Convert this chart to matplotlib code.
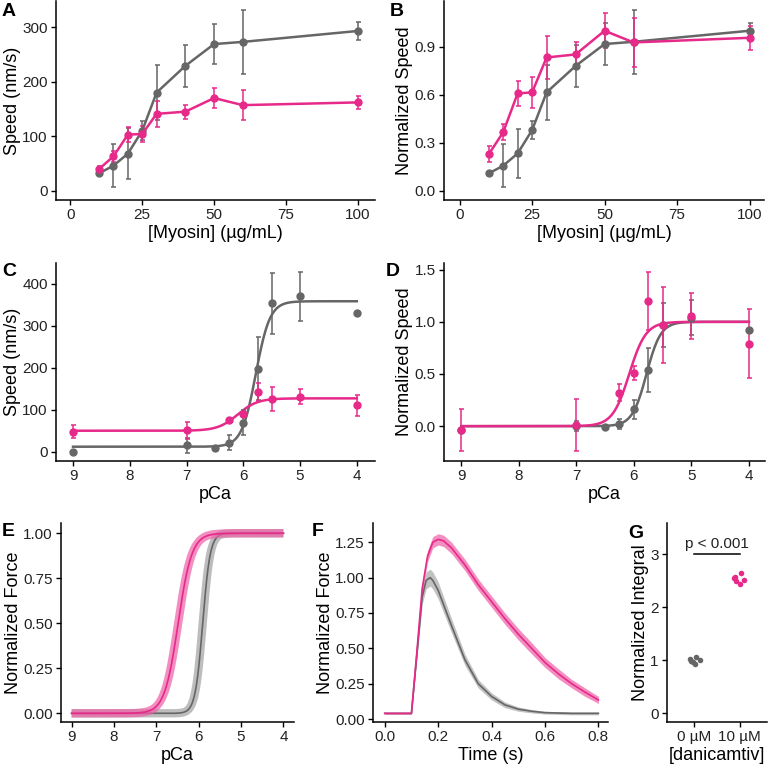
import numpy as np
import matplotlib
matplotlib.use('Agg')
import matplotlib.pyplot as plt

plt.rcParams['font.family'] = ['Liberation Sans', 'DejaVu Sans']

PINK = '#E7298A'
GRAY = '#666666'

# ---- A / B : speed vs myosin concentration
myosin = [10, 15, 20, 25, 30, 40, 50, 60, 100]
speed_ctrl = [32, 46, 68, 110, 180, 229, 269, 273, 293]
speed_ctrl_err = [4, 39, 47, 17, 51, 38, 37, 58, 16]
speed_dan = [40, 63, 103, 104, 141, 145, 170, 157, 162]
speed_dan_err = [5, 10, 13, 14, 24, 13, 19, 27, 12]

norm_ctrl = [0.108, 0.156, 0.233, 0.379, 0.615, 0.78, 0.917, 0.931, 1.0]
norm_ctrl_err = [0.0, 0.135, 0.155, 0.058, 0.17, 0.13, 0.13, 0.2, 0.05]
norm_dan = [0.227, 0.365, 0.608, 0.615, 0.833, 0.852, 1.0, 0.927, 0.956]
norm_dan_err = [0.05, 0.05, 0.08, 0.095, 0.135, 0.08, 0.11, 0.155, 0.075]

# ---- C / D : speed vs pCa
pca_ctrl = [9, 7, 6.5, 6.25, 6, 5.75, 5.5, 5, 4]
pca_speed_ctrl = [0, 15, 8, 22, 69, 197, 353, 370, 331]
pca_speed_ctrl_err = [0, 17, 0, 17, 30, 75, 73, 58, 5]
pca_dan = [9, 7, 6.25, 6, 5.75, 5.5, 5, 4]
pca_speed_dan = [48, 51, 75, 90, 142, 125, 131, 111]
pca_speed_dan_err = [15, 20, 5, 8, 22, 28, 18, 25]

pca_norm_ctrl = [-0.04, 0.0, -0.01, 0.02, 0.16, 0.54, 0.97, 1.04, 0.92]
pca_norm_ctrl_err = [0, 0.05, 0, 0.05, 0.09, 0.21, 0.21, 0.17, 0]
pca_norm_dan = [-0.04, 0.01, 0.32, 0.51, 1.2, 0.97, 1.06, 0.79]
pca_norm_dan_err = [0.2, 0.25, 0.08, 0.07, 0.28, 0.36, 0.22, 0.33]

# Hill fit parameters: bottom, top, pCa50, n
fitC_ctrl = (12, 358, 5.78, 3.5)
fitC_dan = (50, 127, 6.1, 2.5)
fitD_ctrl = (0, 1, 5.78, 3.5)
fitD_dan = (0, 1, 6.08, 3.0)
fitE_ctrl = (0, 1, 5.905, 4.9)
fitE_dan = (0, 1, 6.485, 2.7)

# ---- F : force transients
t_ctrl = [0, 0.10, 0.12, 0.14, 0.155, 0.17, 0.18, 0.20, 0.25, 0.30, 0.35,
          0.40, 0.45, 0.50, 0.55, 0.60, 0.70, 0.80]
f_ctrl = [0.04, 0.04, 0.45, 0.86, 0.98, 1.00, 0.98, 0.91, 0.66, 0.42, 0.25,
          0.16, 0.10, 0.07, 0.055, 0.045, 0.04, 0.04]
f_ctrl_sd = [0.005, 0.005, 0.03, 0.05, 0.06, 0.06, 0.06, 0.06, 0.05, 0.04, 0.03,
             0.025, 0.02, 0.015, 0.012, 0.01, 0.01, 0.01]
t_dan = [0, 0.10, 0.12, 0.14, 0.16, 0.18, 0.20, 0.22, 0.25, 0.30, 0.35, 0.40,
         0.45, 0.50, 0.55, 0.60, 0.65, 0.70, 0.75, 0.80]
f_dan = [0.04, 0.04, 0.47, 0.92, 1.15, 1.25, 1.27, 1.26, 1.21, 1.09, 0.95,
         0.83, 0.71, 0.60, 0.50, 0.40, 0.32, 0.25, 0.19, 0.135]
f_dan_sd = [0.005, 0.005, 0.03, 0.04, 0.04, 0.04, 0.04, 0.04, 0.04, 0.04, 0.04,
            0.04, 0.04, 0.04, 0.04, 0.035, 0.035, 0.03, 0.03, 0.025]

# ---- G : normalized integral
g_labels = ['0 µM', '10 µM']
g_ctrl = [1.03, 1.07, 0.97, 1.00, 0.93, 0.99]
g_ctrl_jit = [-0.10, 0.04, -0.03, 0.12, 0.01, -0.08]
g_dan = [2.58, 2.65, 2.52, 2.50, 2.43, 2.55]
g_dan_jit = [-0.11, 0.03, 0.09, -0.09, 0.0, -0.12]

TICK_FS = 11
TITLE_FS = 13


def hill(p, params):
    bottom, top, p50, n = params
    return bottom + (top - bottom) / (1 + 10 ** (n * (p - p50)))


def style(ax):
    for s in ['top', 'right']:
        ax.spines[s].set_visible(False)
    for s in ['left', 'bottom']:
        ax.spines[s].set_linewidth(1.1)
        ax.spines[s].set_color('black')
    ax.tick_params(direction='out', length=3.5, width=1.0, labelsize=TICK_FS,
                   colors='black', labelcolor='#222222', pad=2.5)
    ax.xaxis.label.set_size(TITLE_FS)
    ax.yaxis.label.set_size(TITLE_FS)


def add_ax(l, t, r, b):
    return fig.add_axes([l / 768, 1 - b / 768, (r - l) / 768, (b - t) / 768])


def err_line(ax, x, y, e, c):
    ax.errorbar(x, y, yerr=e, color=c, lw=1.8, marker='o', ms=5,
                elinewidth=1.1, capsize=1.8, capthick=1.1)


def err_pts(ax, x, y, e, c):
    ax.errorbar(x, y, yerr=e, color=c, lw=0, marker='o', ms=5,
                elinewidth=1.1, capsize=1.8, capthick=1.1)


fig = plt.figure(figsize=(7.68, 7.68), dpi=100)

# A
ax = add_ax(56, 1, 375, 200)
err_line(ax, myosin, speed_ctrl, speed_ctrl_err, GRAY)
err_line(ax, myosin, speed_dan, speed_dan_err, PINK)
ax.set_xlim(-5, 106)
ax.set_ylim(-17, 348)
ax.set_xticks([0, 25, 50, 75, 100])
ax.set_yticks([0, 100, 200, 300])
ax.set_xlabel('[Myosin] (µg/mL)', labelpad=2)
ax.set_ylabel('Speed (nm/s)', labelpad=1)
style(ax)

# B
ax = add_ax(444, 1, 764, 200)
err_line(ax, myosin, norm_ctrl, norm_ctrl_err, GRAY)
err_line(ax, myosin, norm_dan, norm_dan_err, PINK)
ax.set_xlim(-5.4, 105)
ax.set_ylim(-0.058, 1.186)
ax.set_xticks([0, 25, 50, 75, 100])
ax.set_yticks([0.0, 0.3, 0.6, 0.9])
ax.set_yticklabels(['0.0', '0.3', '0.6', '0.9'])
ax.set_xlabel('[Myosin] (µg/mL)', labelpad=2)
ax.set_ylabel('Normalized Speed', labelpad=1)
style(ax)

pgrid = np.linspace(9, 4, 400)

# C
ax = add_ax(56, 263, 375, 461)
ax.plot(pgrid, hill(pgrid, fitC_ctrl), color=GRAY, lw=1.8)
ax.plot(pgrid, hill(pgrid, fitC_dan), color=PINK, lw=1.8)
err_pts(ax, pca_ctrl, pca_speed_ctrl, pca_speed_ctrl_err, GRAY)
err_pts(ax, pca_dan, pca_speed_dan, pca_speed_dan_err, PINK)
ax.set_xlim(9.3, 3.68)
ax.set_ylim(-22, 449)
ax.set_xticks([9, 8, 7, 6, 5, 4])
ax.set_yticks([0, 100, 200, 300, 400])
ax.set_xlabel('pCa', labelpad=2)
ax.set_ylabel('Speed (nm/s)', labelpad=1)
style(ax)

# D
ax = add_ax(444, 263, 765, 461)
ax.plot(pgrid, hill(pgrid, fitD_ctrl), color=GRAY, lw=1.8)
ax.plot(pgrid, hill(pgrid, fitD_dan), color=PINK, lw=1.8)
err_pts(ax, pca_ctrl, pca_norm_ctrl, pca_norm_ctrl_err, GRAY)
err_pts(ax, pca_dan, pca_norm_dan, pca_norm_dan_err, PINK)
ax.set_xlim(9.3, 3.72)
ax.set_ylim(-0.334, 1.564)
ax.set_xticks([9, 8, 7, 6, 5, 4])
ax.set_yticks([0.0, 0.5, 1.0, 1.5])
ax.set_yticklabels(['0.0', '0.5', '1.0', '1.5'])
ax.set_xlabel('pCa', labelpad=2)
ax.set_ylabel('Normalized Speed', labelpad=1)
style(ax)

# E
ax = add_ax(61, 523, 294, 722)
ax.plot(pgrid, hill(pgrid, fitE_ctrl), color='#9a9a9a', lw=6, alpha=0.65,
        solid_capstyle='butt')
ax.plot(pgrid, hill(pgrid, fitE_ctrl), color=GRAY, lw=1.2)
ax.plot(pgrid, hill(pgrid, fitE_dan), color='#ee5fa7', lw=6, alpha=0.7,
        solid_capstyle='butt')
ax.plot(pgrid, hill(pgrid, fitE_dan), color=PINK, lw=1.2)
ax.set_xlim(9.25, 3.75)
ax.set_ylim(-0.048, 1.057)
ax.set_xticks([9, 8, 7, 6, 5, 4])
ax.set_yticks([0, 0.25, 0.5, 0.75, 1.0])
ax.set_yticklabels(['0.00', '0.25', '0.50', '0.75', '1.00'])
ax.set_xlabel('pCa', labelpad=2)
ax.set_ylabel('Normalized Force', labelpad=1)
style(ax)

# F
ax = add_ax(373, 523, 608, 722)
tc = np.array(t_ctrl)
fc = np.array(f_ctrl)
sc = np.array(f_ctrl_sd)
td = np.array(t_dan)
fd = np.array(f_dan)
sd = np.array(f_dan_sd)
ax.fill_between(tc, fc - sc, fc + sc, color='#9a9a9a', alpha=0.6, lw=0)
ax.plot(tc, fc, color=GRAY, lw=1.2)
ax.fill_between(td, fd - sd, fd + sd, color='#ee5fa7', alpha=0.7, lw=0)
ax.plot(td, fd, color=PINK, lw=1.2)
ax.set_xlim(-0.044, 0.836)
ax.set_ylim(-0.021, 1.386)
ax.set_xticks([0, 0.2, 0.4, 0.6, 0.8])
ax.set_xticklabels(['0.0', '0.2', '0.4', '0.6', '0.8'])
ax.set_yticks([0, 0.25, 0.5, 0.75, 1.0, 1.25])
ax.set_yticklabels(['0.00', '0.25', '0.50', '0.75', '1.00', '1.25'])
ax.set_xlabel('Time (s)', labelpad=2)
ax.set_ylabel('Normalized Force', labelpad=1)
style(ax)

# G
ax = add_ax(667, 523, 767, 722)
ax.scatter(1 + np.array(g_ctrl_jit), g_ctrl, s=16, color=GRAY, lw=0)
ax.scatter(2 + np.array(g_dan_jit), g_dan, s=16, color=PINK, lw=0)
ax.plot([1, 2], [3.0, 3.0], color='black', lw=1.1)
ax.text(1.5, 3.06, 'p < 0.001', ha='center', va='bottom', fontsize=TICK_FS,
        color='#222222')
ax.set_xlim(0.4, 2.6)
ax.set_ylim(-0.164, 3.59)
ax.set_xticks([1, 2])
ax.set_xticklabels(g_labels)
ax.set_yticks([0, 1, 2, 3])
ax.set_xlabel('[danicamtiv]', labelpad=2)
ax.set_ylabel('Normalized Integral', labelpad=1)
style(ax)

# panel letters
for lab, x, y in [('A', 2, 3), ('B', 390, 3), ('C', 2, 263), ('D', 386, 263),
                  ('E', 2, 523), ('F', 312, 523), ('G', 628, 525)]:
    fig.text(x / 768, 1 - y / 768, lab, fontsize=14, fontweight='bold',
             ha='left', va='top')

fig.savefig('out.png', dpi=100)
